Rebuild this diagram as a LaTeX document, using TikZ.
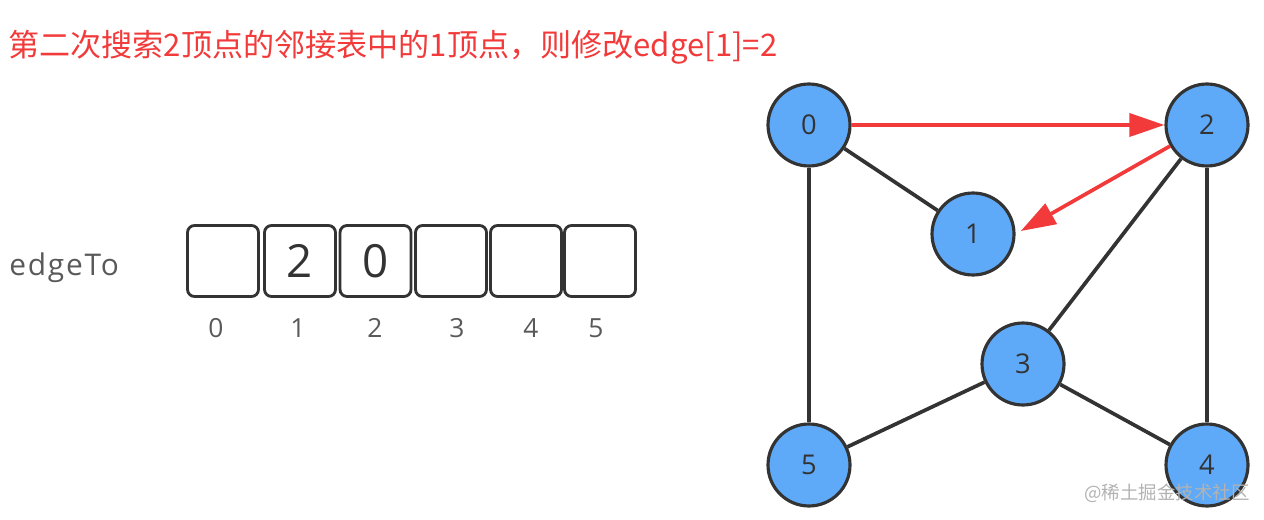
\documentclass[tikz,border=0pt]{standalone}
\usepackage{fontspec}
\setmainfont{Open Sans}
\newfontfamily\cjk{Noto Sans CJK SC}
\usepackage{tikz}
\usetikzlibrary{arrows.meta}
\definecolor{nodeblue}{RGB}{94, 170, 248}
\definecolor{darkline}{RGB}{51, 51, 51}
\definecolor{alertred}{RGB}{242, 58, 58}
\definecolor{gray40}{gray}{0.35}

\begin{document}
\begin{tikzpicture}[x=0.02cm, y=-0.02cm,
    vertex/.style={circle, draw=darkline, line width=1.8pt, fill=nodeblue,
      minimum size=1.64cm, inner sep=0, text=darkline, font=\fontsize{15.5}{15.5}\selectfont},
    cell/.style={draw=darkline, line width=1.6pt, rounded corners=4pt, minimum width=1.42cm,
      minimum height=1.42cm, inner sep=0, text=darkline, font=\fontsize{26}{26}\selectfont},
    edge/.style={darkline, line width=2.1pt},
    visit/.style={alertred, line width=2.1pt, -{Triangle[length=0.7cm, width=0.46cm]}}]

  \useasboundingbox (0, 0) rectangle (1264, 520);

  \node[anchor=base west, inner sep=0, text=alertred, font=\cjk\fontsize{17.7}{17.7}\selectfont]
    (title) at (8, 57) {第二次搜索2顶点的邻接表中的1顶点，则修改edge[1]=2};

  % the edgeTo array
  \node[anchor=west, inner sep=0, text=gray40,
    font=\fontsize{17}{17}\selectfont\addfontfeatures{LetterSpace=6}]
    (edgeto) at (9, 268) {edgeTo};

  \foreach \x/\i/\v in {223/0/, 300/1/2, 375.5/2/0, 451/3/, 526/4/, 600/5/} {
    \node[cell] (cell\i) at (\x, 261) {\v};
  }

  \foreach \x/\i in {216/0, 298/1, 375/2, 457/3, 531/4, 596/5} {
    \node[text=gray40, font=\fontsize{15}{15}\selectfont] (idx\i) at (\x, 328) {\i};
  }

  % the graph
  \node[vertex] (v0) at (809, 125) {0};
  \node[vertex] (v1) at (973, 234) {1};
  \node[vertex] (v2) at (1207, 125) {2};
  \node[vertex] (v3) at (1023, 364) {3};
  \node[vertex] (v4) at (1207, 465) {4};
  \node[vertex] (v5) at (809, 465) {5};

  \draw[edge] (v0) -- (v1);
  \draw[edge] (v0) -- (v5);
  \draw[edge] (v2) -- (v3);
  \draw[edge] (v2) -- (v4);
  \draw[edge] (v3) -- (v5);
  \draw[edge] (v3) -- (v4);

  \draw[visit] (v0) -- (v2);
  \draw[visit, shorten >=0.12cm] (v2) -- (v1.east);

  \node[text=gray!60, font=\cjk\fontsize{10.5}{10.5}\selectfont] (mark) at (1167, 493) {@稀土掘金技术社区};

\end{tikzpicture}
\end{document}
